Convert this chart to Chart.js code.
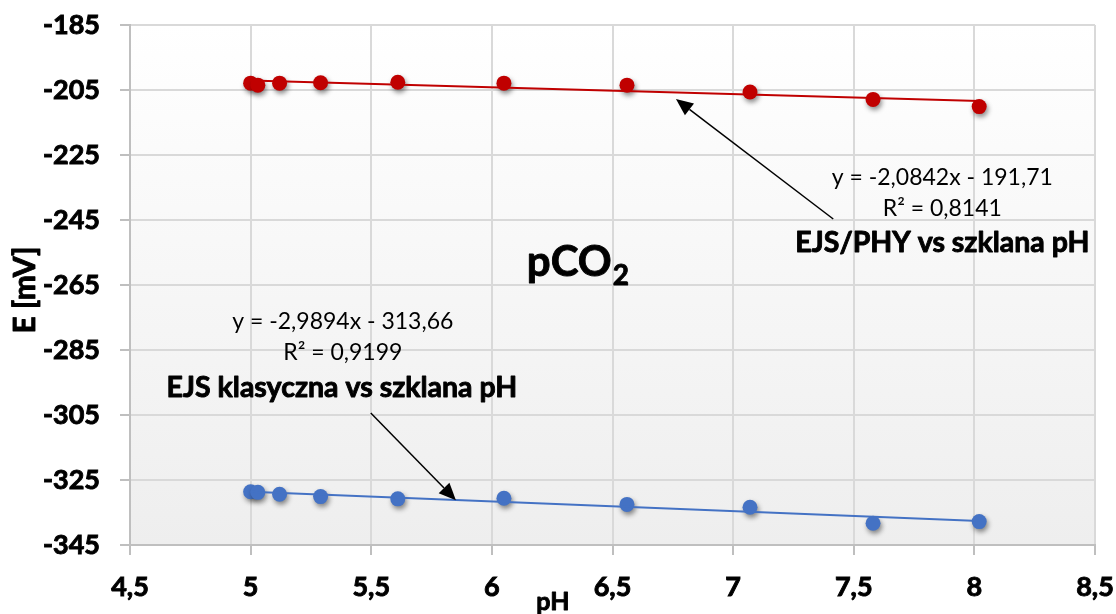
<!DOCTYPE html>
<html><head><meta charset="utf-8">
<script src="https://cdn.jsdelivr.net/npm/chart.js@4.4.1/dist/chart.umd.min.js"></script>
<style>html,body{margin:0;padding:0;background:#fff}#wrap{width:1116px;height:614px;position:relative}</style>
</head><body><div id="wrap"><canvas id="c"></canvas></div>
<script>
// ---- data ----
const phValues   = [5.00, 5.03, 5.12, 5.29, 5.61, 6.05, 6.56, 7.07, 7.58, 8.02];
const ejsPhyE    = [-202.9, -203.5, -202.9, -202.75, -202.6, -202.9, -203.5, -205.6, -207.9, -210.1];
const ejsKlasE   = [-328.6, -328.8, -329.4, -330.1, -330.8, -330.6, -332.5, -333.4, -338.3, -337.8];
const phyTrendPH = [5.00, 8.02];
const phyTrendE  = [-202.1, -208.4];
const klasTrendPH = [5.00, 8.02];
const klasTrendE  = [-328.6, -337.6];
const xTickValues = [4.5, 5, 5.5, 6, 6.5, 7, 7.5, 8, 8.5];
const xTickLabels = ['4,5', '5', '5,5', '6', '6,5', '7', '7,5', '8', '8,5'];
const yTickLabels = ['-345', '-325', '-305', '-285', '-265', '-245', '-225', '-205', '-185'];
const seriesNames = ['EJS/PHY vs szklana pH', 'EJS klasyczna vs szklana pH'];
const eqPhy  = ['y = -2,0842x - 191,71', 'R² = 0,8141'];
const eqKlas = ['y = -2,9894x - 313,66', 'R² = 0,9199'];

const RED = '#C00000', BLUE = '#4472C4';
const BOLD = 'bold';
const STROKE = 0.9;
const pts = (xs, ys) => xs.map((x, i) => ({x, y: ys[i]}));

// annotation placement (data coordinates)
const notes = [
  {text: eqPhy[0], x: 7.867, y: -231.8, size: 23, bold: false},
  {text: eqPhy[1], x: 7.867, y: -241.6, size: 23, bold: false},
  {text: seriesNames[0], x: 7.867, y: -252.1, size: 28.5, bold: true},
  {text: eqKlas[0], x: 5.382, y: -276.4, size: 23, bold: false},
  {text: eqKlas[1], x: 5.382, y: -285.9, size: 23, bold: false},
  {text: seriesNames[1], x: 5.378, y: -296.7, size: 28.5, bold: true}
];
const arrows = [
  {from: [7.415, -244.7], to: [6.763, -207.8]},
  {from: [5.498, -304.4], to: [5.851, -331.2]}
];

function boldText(ctx, t, x, y) {
  ctx.fillText(t, x, y);
  ctx.lineWidth = STROKE; ctx.strokeStyle = '#000'; ctx.lineJoin = 'round';
  ctx.strokeText(t, x, y);
}

const bgPlugin = {
  id: 'bg',
  beforeDraw(chart) {
    const {ctx, chartArea: a} = chart;
    const g = ctx.createLinearGradient(0, a.top, 0, a.bottom);
    g.addColorStop(0, '#ffffff');
    g.addColorStop(1, '#eeeeee');
    ctx.save(); ctx.fillStyle = g; ctx.fillRect(a.left, a.top, a.right - a.left, a.bottom - a.top); ctx.restore();
  }
};
const shadowPlugin = {
  id: 'shadow',
  beforeDatasetDraw(chart, args) {
    if (chart.data.datasets[args.index].shadow) {
      const ctx = chart.ctx; ctx.save();
      ctx.shadowColor = 'rgba(0,0,0,0.45)'; ctx.shadowBlur = 5; ctx.shadowOffsetX = 1.5; ctx.shadowOffsetY = 3;
    }
  },
  afterDatasetDraw(chart, args) {
    if (chart.data.datasets[args.index].shadow) chart.ctx.restore();
  }
};
const annotPlugin = {
  id: 'annot',
  afterDraw(chart) {
    const {ctx, scales: {x, y}, chartArea: a} = chart;
    ctx.save();
    ctx.fillStyle = '#000'; ctx.textAlign = 'center'; ctx.textBaseline = 'middle';
    notes.forEach(n => {
      ctx.font = (n.bold ? BOLD + ' ' : '') + n.size + 'px Lato';
      const px = x.getPixelForValue(n.x), py = y.getPixelForValue(n.y);
      if (n.bold) boldText(ctx, n.text, px, py); else ctx.fillText(n.text, px, py);
    });
    // arrows
    ctx.strokeStyle = '#000'; ctx.lineWidth = 1.5;
    arrows.forEach(ar => {
      const x1 = x.getPixelForValue(ar.from[0]), y1 = y.getPixelForValue(ar.from[1]);
      const x2 = x.getPixelForValue(ar.to[0]), y2 = y.getPixelForValue(ar.to[1]);
      const ang = Math.atan2(y2 - y1, x2 - x1), L = 17, W = 7.5;
      const bx = x2 - L * Math.cos(ang), by = y2 - L * Math.sin(ang);
      ctx.lineWidth = 1.5;
      ctx.beginPath(); ctx.moveTo(x1, y1); ctx.lineTo(bx, by); ctx.stroke();
      ctx.beginPath(); ctx.moveTo(x2, y2);
      ctx.lineTo(bx + W * Math.sin(ang), by - W * Math.cos(ang));
      ctx.lineTo(bx - W * Math.sin(ang), by + W * Math.cos(ang));
      ctx.closePath(); ctx.fill();
    });
    // pCO2 label
    ctx.textAlign = 'left'; ctx.textBaseline = 'alphabetic';
    ctx.font = BOLD + ' 42px Lato';
    const px = x.getPixelForValue(6.145), py = y.getPixelForValue(-262.2);
    boldText(ctx, 'pCO', px, py);
    const w = ctx.measureText('pCO').width;
    ctx.font = BOLD + ' 28px Lato';
    boldText(ctx, '2', px + w + 1, py + 9);
    // x axis title
    ctx.textAlign = 'center'; ctx.textBaseline = 'middle';
    ctx.font = BOLD + ' 25px Lato';
    boldText(ctx, 'pH', x.getPixelForValue(6.253), a.bottom + 57);
    // y axis title
    ctx.save();
    ctx.translate(a.left - 105, (a.top + a.bottom) / 2 + 5);
    ctx.rotate(-Math.PI / 2);
    ctx.font = BOLD + ' 30px Lato';
    boldText(ctx, 'E [mV]', 0, 0);
    ctx.restore();
    ctx.restore();
  }
};

function build() {
  new Chart(document.getElementById('c'), {
    type: 'scatter',
    data: {
      datasets: [
        {label: 'trend PHY', data: pts(phyTrendPH, phyTrendE), showLine: true, borderColor: RED, borderWidth: 2, pointRadius: 0, fill: false},
        {label: 'trend klas', data: pts(klasTrendPH, klasTrendE), showLine: true, borderColor: BLUE, borderWidth: 2, pointRadius: 0, fill: false},
        {label: seriesNames[0], data: pts(phValues, ejsPhyE), backgroundColor: RED, borderColor: RED, pointRadius: 7.5, borderWidth: 0, shadow: true},
        {label: seriesNames[1], data: pts(phValues, ejsKlasE), backgroundColor: BLUE, borderColor: BLUE, pointRadius: 7.5, borderWidth: 0, shadow: true}
      ]
    },
    options: {
      responsive: false, animation: false,
      layout: {padding: {top: 25, right: 21, bottom: 0, left: 0}},
      plugins: {legend: {display: false}, tooltip: {enabled: false}},
      scales: {
        x: {
          type: 'linear', min: xTickValues[0], max: xTickValues[xTickValues.length - 1],
          afterBuildTicks: s => { s.ticks = xTickValues.map(v => ({value: v})); },
          afterFit: s => { s.height = 69; s.paddingLeft = 0; s.paddingRight = 0; },
          ticks: {callback: (v, i) => xTickLabels[i], color: '#000', font: {family: 'Lato', size: 27, weight: BOLD}, padding: 16, maxRotation: 0,
            textStrokeColor: '#000', textStrokeWidth: STROKE},
          grid: {color: '#d9d9d9', lineWidth: 2, tickColor: '#bfbfbf', tickLength: 10, tickWidth: 2},
          border: {color: '#bfbfbf', width: 2}
        },
        y: {
          type: 'linear', min: -345, max: -185,
          ticks: {stepSize: 10, color: '#000', font: {family: 'Lato', size: 27, weight: BOLD}, padding: 20,
            textStrokeColor: '#000', textStrokeWidth: STROKE,
            callback: v => { const s = String(v); return yTickLabels.includes(s) ? s : ''; }},
          afterFit: s => { s.width = 130; s.paddingTop = 0; s.paddingBottom = 0; },
          grid: {color: c => (yTickLabels.includes(String(c.tick.value)) ? '#d9d9d9' : 'rgba(0,0,0,0)'), lineWidth: 2, tickColor: '#bfbfbf', tickLength: 10, tickWidth: 2},
          border: {color: '#bfbfbf', width: 2},
          title: {display: false}
        }
      }
    },
    plugins: [bgPlugin, shadowPlugin, annotPlugin]
  });
}
const c = document.getElementById('c'); c.width = 1116; c.height = 614;
if (document.fonts && document.fonts.load) {
  Promise.all([document.fonts.load('bold 27px Lato'), document.fonts.load('23px Lato')]).then(build, build);
} else build();
</script></body></html>
